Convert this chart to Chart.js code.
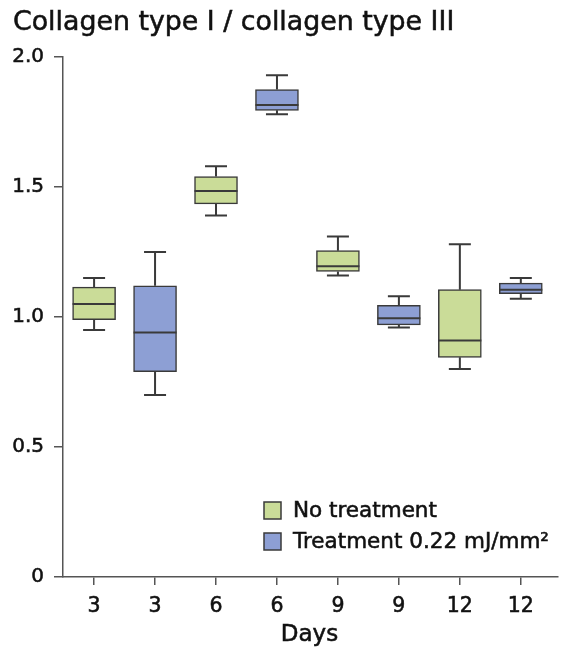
<!DOCTYPE html>
<html>
<head>
<meta charset="utf-8">
<script src="https://cdn.jsdelivr.net/npm/chart.js@4/dist/chart.umd.min.js"></script>
<style>
  html, body { margin: 0; padding: 0; background: #fff; }
  #wrap { width: 562px; height: 651px; }
</style>
</head>
<body>
<div id="wrap"><canvas id="chart" width="562" height="651"></canvas></div>
<script>
// Day label under each box (left to right)
const dayLabels = ['3', '3', '6', '6', '9', '9', '12', '12'];
// which series each box belongs to: 0 = no treatment, 1 = treatment
const boxGroup = [0, 1, 0, 1, 0, 1, 0, 1];
const seriesNames = ['No treatment', 'Treatment 0.22 mJ/mm²'];
const seriesColors = ['#cadc98', '#8d9fd4'];

// box plot statistics
const whiskerLow  = [0.95, 0.70, 1.39, 1.78, 1.16, 0.96, 0.80, 1.07];
const q1          = [0.99, 0.79, 1.435, 1.795, 1.175, 0.97, 0.845, 1.09];
const median      = [1.05, 0.94, 1.485, 1.815, 1.195, 0.995, 0.91, 1.105];
const q3          = [1.115, 1.12, 1.54, 1.875, 1.255, 1.045, 1.105, 1.13];
const whiskerHigh = [1.15, 1.25, 1.58, 1.93, 1.31, 1.08, 1.28, 1.15];

const yTicks = [0, 0.5, 1.0, 1.5, 2.0];

const chartTitle = 'Collagen type I / collagen type III';
const xTitle = 'Days';

const FONT = "'DejaVu Sans', sans-serif";
const INK = '#111';
const AXIS = '#555';
const EDGE = '#3a3a3a';
const HEAVY = 0.55; // extra stroke so the text reads a bit heavier

function boxData(group) {
    const out = [];
    dayLabels.forEach((d, i) => {
        if (boxGroup[i] === group) out.push({ x: i, y: [q1[i], q3[i]] });
    });
    return out;
}

function heavyText(ctx, text, x, y) {
    ctx.fillText(text, x, y);
    ctx.strokeText(text, x, y);
}

// whiskers, caps and medians drawn through the scales
const boxExtras = {
    id: 'boxExtras',
    afterDatasetsDraw(chart) {
        const { ctx, scales: { x, y } } = chart;
        const boxW = 43, capW = 22;
        ctx.save();
        ctx.strokeStyle = EDGE;
        ctx.lineWidth = 2;
        dayLabels.forEach((d, i) => {
            const px = x.getPixelForValue(i);
            ctx.beginPath();
            ctx.moveTo(px, y.getPixelForValue(q3[i]));
            ctx.lineTo(px, y.getPixelForValue(whiskerHigh[i]));
            ctx.moveTo(px, y.getPixelForValue(q1[i]));
            ctx.lineTo(px, y.getPixelForValue(whiskerLow[i]));
            ctx.moveTo(px - capW / 2, y.getPixelForValue(whiskerHigh[i]));
            ctx.lineTo(px + capW / 2, y.getPixelForValue(whiskerHigh[i]));
            ctx.moveTo(px - capW / 2, y.getPixelForValue(whiskerLow[i]));
            ctx.lineTo(px + capW / 2, y.getPixelForValue(whiskerLow[i]));
            ctx.stroke();
            ctx.beginPath();
            ctx.moveTo(px - boxW / 2, y.getPixelForValue(median[i]));
            ctx.lineTo(px + boxW / 2, y.getPixelForValue(median[i]));
            ctx.stroke();
        });
        ctx.restore();
    },
    afterDraw(chart) {
        const { ctx, chartArea, scales: { x } } = chart;
        ctx.save();
        ctx.fillStyle = INK;
        ctx.strokeStyle = INK;
        ctx.lineWidth = HEAVY;

        // title
        ctx.font = '26.8px ' + FONT;
        ctx.textAlign = 'left';
        ctx.textBaseline = 'alphabetic';
        heavyText(ctx, chartTitle, 13, 29.5);

        // legend inside the plot
        const lx = chartArea.left + 201, ly = chartArea.top + 453;
        seriesNames.forEach((name, k) => {
            const yy = ly + k * 31;
            ctx.fillStyle = seriesColors[k];
            ctx.fillRect(lx, yy - 8, 17, 17);
            ctx.strokeStyle = EDGE;
            ctx.lineWidth = 1.5;
            ctx.strokeRect(lx, yy - 8, 17, 17);
            ctx.fillStyle = INK;
            ctx.strokeStyle = INK;
            ctx.lineWidth = HEAVY;
            ctx.font = '21.5px ' + FONT;
            ctx.textBaseline = 'middle';
            ctx.textAlign = 'left';
            heavyText(ctx, name, lx + 29, yy + 1);
        });

        // axis title, centred under the boxes
        ctx.font = '23px ' + FONT;
        ctx.textAlign = 'center';
        ctx.textBaseline = 'alphabetic';
        heavyText(ctx, xTitle, x.getPixelForValue(3.5) + 2, 641);
        ctx.restore();
    }
};

new Chart(document.getElementById('chart').getContext('2d'), {
    type: 'bar',
    data: {
        datasets: seriesNames.map((name, k) => ({
            label: name,
            data: boxData(k),
            backgroundColor: seriesColors[k],
            borderColor: EDGE,
            borderWidth: 1.5,
            borderSkipped: false,
            barThickness: 43,
            grouped: false
        }))
    },
    options: {
        responsive: false,
        animation: false,
        layout: { padding: { left: 13, right: 4, top: 57, bottom: 0 } },
        plugins: {
            legend: { display: false },
            tooltip: { enabled: false },
            title: { display: false }
        },
        scales: {
            x: {
                type: 'linear',
                offset: false,
                min: -0.51,
                max: 7.61,
                afterBuildTicks(scale) {
                    scale.ticks = dayLabels.map((d, i) => ({ value: i }));
                },
                afterFit(scale) { scale.height = 74; },
                ticks: {
                    color: INK,
                    font: { family: FONT, size: 20.5 },
                    padding: 9,
                    autoSkip: false,
                    maxRotation: 0,
                    textStrokeColor: INK,
                    textStrokeWidth: HEAVY,
                    callback: (v) => dayLabels[v] ?? ''
                },
                grid: { offset: false, drawOnChartArea: false, drawTicks: true, tickLength: 8, color: AXIS, lineWidth: 1.5 },
                border: { display: true, color: AXIS, width: 1.5 }
            },
            y: {
                min: 0,
                max: 2,
                afterBuildTicks(scale) {
                    scale.ticks = yTicks.map(v => ({ value: v }));
                },
                afterFit(scale) { scale.width = 50; },
                ticks: {
                    color: INK,
                    font: { family: FONT, size: 20 },
                    padding: 10,
                    textStrokeColor: INK,
                    textStrokeWidth: HEAVY,
                    callback: (v) => v === 0 ? '0' : v.toFixed(1)
                },
                grid: { drawOnChartArea: false, drawTicks: true, tickLength: 9, color: AXIS, lineWidth: 1.5 },
                border: { display: true, color: AXIS, width: 1.5 }
            }
        }
    },
    plugins: [boxExtras]
});
</script>
</body>
</html>
